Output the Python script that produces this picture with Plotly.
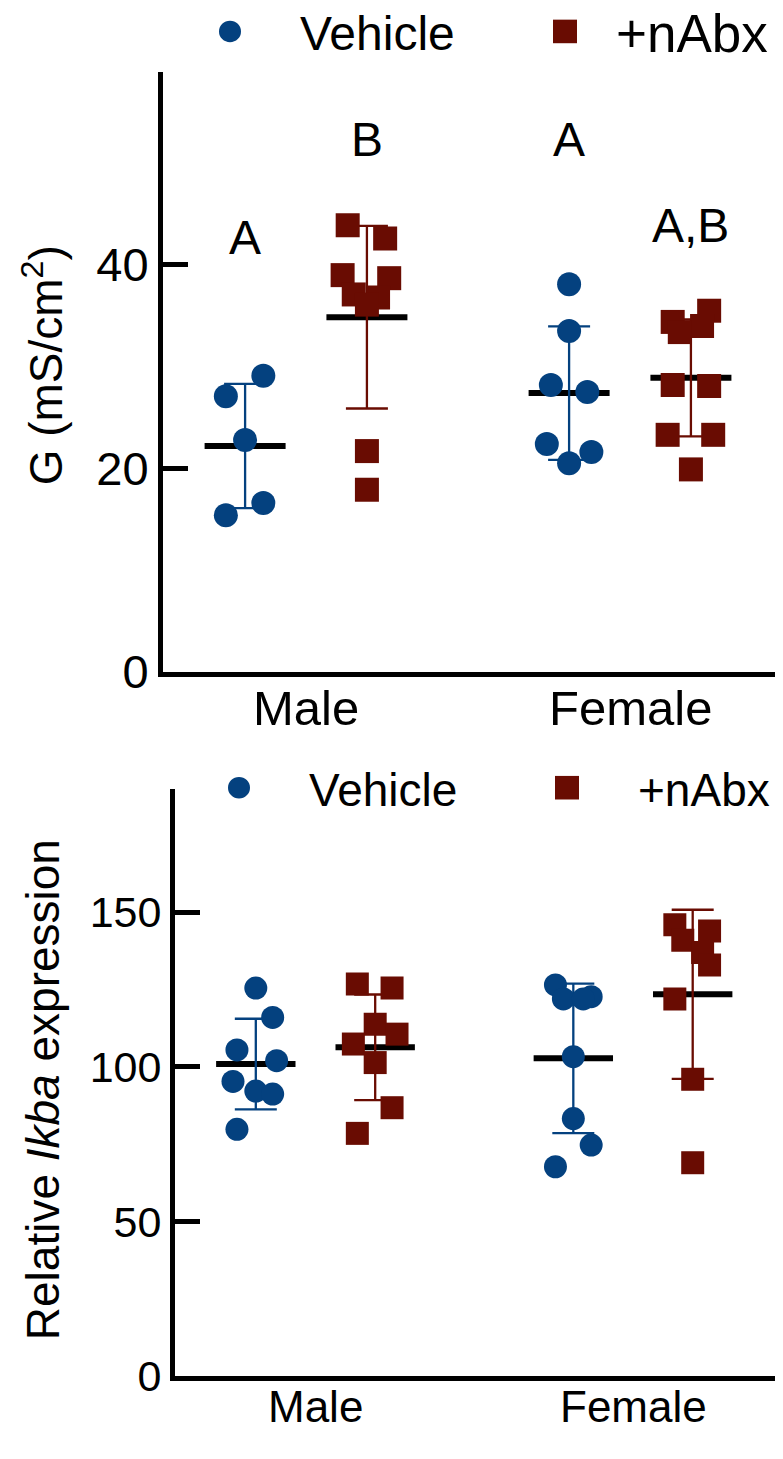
import numpy as np
import plotly.graph_objects as go

# ---------------- data ----------------
groups = ["Male", "Female"]
treatments = ["Vehicle", "+nAbx"]

# Panel 1: G (mS/cm2)
g_male_vehicle = [29.1, 27.1, 22.8, 16.6, 15.4]
g_male_nabx = [43.9, 42.6, 39.0, 38.7, 37.1, 36.8, 36.1, 21.7, 17.9]
g_female_vehicle = [38.1, 33.5, 28.2, 27.5, 22.4, 21.6, 20.5]
g_female_nabx = [35.5, 34.4, 34.0, 33.4, 28.2, 28.1, 23.3, 23.3, 19.9]
g_letters = ["A", "B", "A", "A,B"]
g_letter_heights = [42.7, 52.3, 52.3, 43.9]

# Panel 2: relative Ikba expression
ikba_male_vehicle = [125.5, 116.0, 105.5, 102.0, 95.3, 92.2, 91.2, 79.8]
ikba_male_nabx = [126.8, 125.5, 113.8, 110.6, 107.4, 101.4, 86.8, 78.5]
ikba_female_vehicle = [126.5, 122.7, 122.0, 122.0, 103.3, 83.3, 74.7, 67.7]
ikba_female_nabx = [146, 144, 141, 137, 133, 122, 96, 69]

g_ticks = [0, 20, 40]
ikba_ticks = [0, 50, 100, 150]

# ---------------- layout / style ----------------
W, H = 783, 1459
BLUE = "#04417F"
RED = "#690C02"
FONT = "Liberation Sans, Arial, Helvetica, sans-serif"
OFF = 0.188          # treatment offset inside a sex group (axis units)
PX = 320.0           # approx px per x-axis unit

# scatter jitter (pixels) for each dot, same order as data lists
jit_g = {
    "mv": [18, -19, 0, 18, -19],
    "mn": [-19, 18, -24, 22, -13, 11, 0, 0, 0],
    "fv": [0, 0, -18, 18, -22, 22, 0],
    "fn": [18, -18, 11, -11, -18, 18, -23, 22, 0],
}
jit_i = {
    "mv": [0, 17, -19, 21, -23, 0, 17, -19],
    "mn": [-18, 17, 0, 22, -22, 0, 17, -18],
    "fv": [-18, 18, -10, 10, 0, 0, 18, -18],
    "fn": [-18, 17, -10, 10, 17, -18, 0, 0],
}

fig = go.Figure()


def add_group(vals, jit, xc, color, symbol, msize, xa, ya):
    v = np.array(vals, dtype=float)
    m = v.mean()
    sd = v.std(ddof=1)
    # mean line
    fig.add_trace(go.Scatter(x=[xc - 0.125, xc + 0.125], y=[m, m], mode="lines",
                             line=dict(color="black", width=6), xaxis=xa, yaxis=ya,
                             showlegend=False, hoverinfo="skip"))
    # SD error bar
    fig.add_trace(go.Scatter(x=[xc], y=[m], mode="markers",
                             marker=dict(size=1, color="rgba(0,0,0,0)"),
                             error_y=dict(type="data", array=[sd], symmetric=True,
                                          color=color, thickness=2.3, width=21),
                             xaxis=xa, yaxis=ya, showlegend=False, hoverinfo="skip"))
    # points
    xs = [xc + j / PX for j in jit]
    fig.add_trace(go.Scatter(x=xs, y=v, mode="markers",
                             marker=dict(symbol=symbol, size=msize, color=color,
                                         line=dict(width=0)),
                             xaxis=xa, yaxis=ya, showlegend=False))


pos = {"Male": 0.0, "Female": 1.0}
# top panel
add_group(g_male_vehicle, jit_g["mv"], pos["Male"] - OFF, BLUE, "circle", 24, "x", "y")
add_group(g_male_nabx, jit_g["mn"], pos["Male"] + OFF, RED, "square", 24, "x", "y")
add_group(g_female_vehicle, jit_g["fv"], pos["Female"] - OFF, BLUE, "circle", 24, "x", "y")
add_group(g_female_nabx, jit_g["fn"], pos["Female"] + OFF, RED, "square", 24, "x", "y")
# bottom panel
add_group(ikba_male_vehicle, jit_i["mv"], pos["Male"] - OFF, BLUE, "circle", 23, "x2", "y2")
add_group(ikba_male_nabx, jit_i["mn"], pos["Male"] + OFF, RED, "square", 23, "x2", "y2")
add_group(ikba_female_vehicle, jit_i["fv"], pos["Female"] - OFF, BLUE, "circle", 23, "x2", "y2")
add_group(ikba_female_nabx, jit_i["fn"], pos["Female"] + OFF, RED, "square", 23, "x2", "y2")

# significance letters
letter_x = [pos["Male"] - OFF, pos["Male"] + OFF, pos["Female"] - OFF, pos["Female"] + OFF]
annotations = []
for t, xx, yy in zip(g_letters, letter_x, g_letter_heights):
    annotations.append(dict(text=t, x=xx, y=yy, xref="x", yref="y", showarrow=False,
                            font=dict(family=FONT, size=48, color="black"),
                            xanchor="center", yanchor="middle"))

# x-axis category labels (placed just under each axis)
for g in groups:
    annotations.append(dict(text=g, x=pos[g], y=1 - 721 / H, xref="x", yref="paper",
                            showarrow=False, xanchor="center", yanchor="middle",
                            font=dict(family=FONT, size=49, color="black")))
    annotations.append(dict(text=g, x=pos[g], y=1 - 1432 / H, xref="x2", yref="paper",
                            showarrow=False, xanchor="center", yanchor="middle",
                            font=dict(family=FONT, size=44, color="black")))

# y-axis titles
annotations.append(dict(text="G (mS/cm<sup>2</sup>)", x=43 / W, y=1 - 372 / H,
                        xref="paper", yref="paper", showarrow=False, textangle=-90,
                        font=dict(family=FONT, size=46, color="black"),
                        xanchor="center", yanchor="middle"))
annotations.append(dict(text="Relative <i>Ikba</i> expression", x=43 / W, y=1 - 1110 / H,
                        xref="paper", yref="paper", showarrow=False, textangle=-90,
                        font=dict(family=FONT, size=46, color="black"),
                        xanchor="center", yanchor="middle"))

# legends (key symbols + labels)
shapes = []
def legend_row(yc, cx, tx1, sx, tx2, fs1, fs2):
    r = 11
    shapes.append(dict(type="circle", xref="paper", yref="paper",
                       x0=(cx - r) / W, x1=(cx + r) / W,
                       y0=1 - (yc + r) / H, y1=1 - (yc - r) / H,
                       fillcolor=BLUE, line=dict(width=0)))
    s = 12
    shapes.append(dict(type="rect", xref="paper", yref="paper",
                       x0=(sx - s) / W, x1=(sx + s) / W,
                       y0=1 - (yc + s) / H, y1=1 - (yc - s) / H,
                       fillcolor=RED, line=dict(width=0)))
    for txt, tx, fs in ((treatments[0], tx1, fs1), (treatments[1], tx2, fs2)):
        annotations.append(dict(text=txt, x=tx / W, y=1 - (yc + 2) / H, xref="paper",
                                yref="paper", showarrow=False, xanchor="left",
                                yanchor="middle",
                                font=dict(family=FONT, size=fs, color="black")))

legend_row(32, 230, 298, 565, 614, 48, 53)
legend_row(802, 239, 307, 567, 636, 46, 46)

axis_common = dict(showgrid=False, zeroline=False, showline=True, linecolor="black",
                   linewidth=5)

fig.update_layout(
    width=W, height=H, margin=dict(l=0, r=0, t=0, b=0),
    paper_bgcolor="white", plot_bgcolor="white", showlegend=False,
    xaxis=dict(domain=[163 / W, 775 / W], range=[-0.4414, 1.4475], anchor="y",
               showticklabels=False, ticks="", **axis_common),
    yaxis=dict(domain=[1 - 684 / H, 1 - 73 / H], range=[0, 59], anchor="x",
               tickvals=g_ticks, ticks="inside", ticklen=25, tickwidth=5, tickcolor="black",
               tickfont=dict(family=FONT, size=47, color="black"), **axis_common),
    xaxis2=dict(domain=[175 / W, 775 / W], range=[-0.4425, 1.4472], anchor="y2",
                showticklabels=False, ticks="", **axis_common),
    yaxis2=dict(domain=[1 - 1401 / H, 1 - 803 / H], range=[0, 190], anchor="x2",
                tickvals=ikba_ticks, ticks="inside", ticklen=25, tickwidth=5,
                tickcolor="black",
                tickfont=dict(family=FONT, size=43, color="black"), **axis_common),
    annotations=annotations,
    shapes=shapes,
)

fig.write_html("out.html")
